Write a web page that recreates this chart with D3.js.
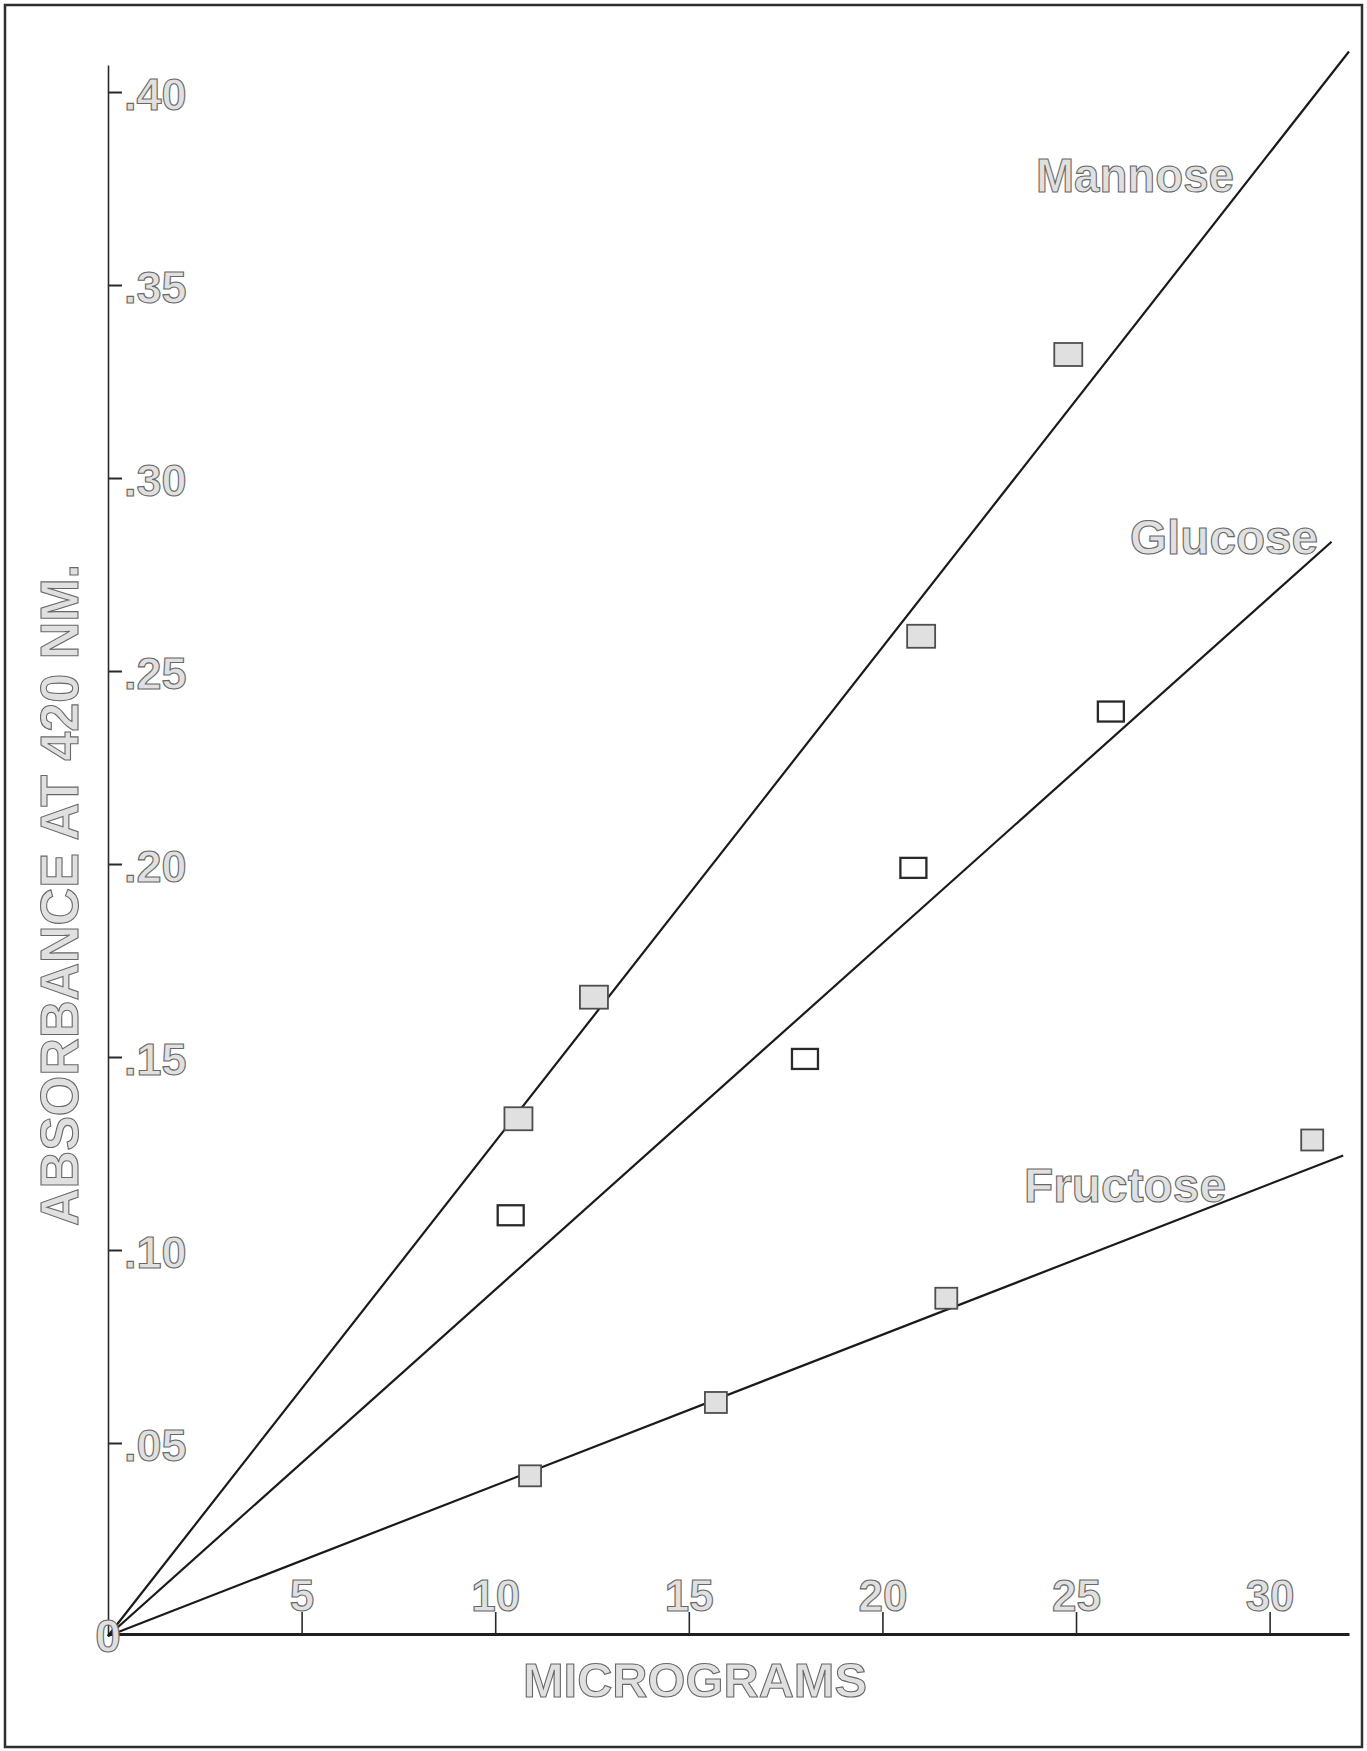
<!DOCTYPE html>
<html>
<head>
<meta charset="utf-8">
<script src="https://cdn.jsdelivr.net/npm/d3@7"></script>
<style>
  html, body { margin: 0; padding: 0; background: #ffffff; }
  svg { display: block; }
  .lt { font-family: "Liberation Sans", Arial, Helvetica, sans-serif; font-weight: bold; fill: #e0e0e0; stroke: #686868; stroke-width: 1.1px; }
</style>
</head>
<body>
<div class="container"></div>
<script>
// Data
const seriesNames = ["Mannose", "Glucose", "Fructose"];

const mannoseX = [10.6, 12.55, 21.0, 24.8];
const mannoseY = [0.134, 0.1655, 0.259, 0.332];
const glucoseX = [10.4, 18.0, 20.8, 25.9];
const glucoseY = [0.109, 0.1495, 0.199, 0.2395];
const fructoseX = [10.9, 15.7, 21.65, 31.1];
const fructoseY = [0.0415, 0.0605, 0.0875, 0.1285];

// fitted lines (start, end)
const mannoseLine = [[0, 0], [32.05, 0.4105]];
const glucoseLine = [[0, 0], [31.6, 0.2835]];
const fructoseLine = [[0, 0], [31.9, 0.1245]];

const xTicks = [5, 10, 15, 20, 25, 30];
const xTickLabels = ["5", "10", "15", "20", "25", "30"];
const yTicks = [0.05, 0.10, 0.15, 0.20, 0.25, 0.30, 0.35, 0.40];
const yTickLabels = [".05", ".10", ".15", ".20", ".25", ".30", ".35", ".40"];

const xMax = 32.05;
const yMax = 0.407;

// Dimensions
const w = 1367;
const h = 1751;
const originX = 108;
const originY = 1636;

const xScale = d3.scaleLinear().domain([0, xMax]).range([originX, 1349]);
const yScale = d3.scaleLinear().domain([0, yMax]).range([originY, 65]);

const svg = d3.select(".container")
  .append("svg")
  .attr("width", w)
  .attr("height", h);

// Frame
svg.append("rect")
  .attr("x", 5)
  .attr("y", 5)
  .attr("width", 1357)
  .attr("height", 1742)
  .attr("fill", "none")
  .attr("stroke", "#2e2e2e")
  .attr("stroke-width", 2.5);

// Y axis (ticks pointing into the plot, labels to the right)
const yAxis = d3.axisRight(yScale)
  .tickValues(yTicks)
  .tickFormat((d, i) => yTickLabels[i])
  .tickSizeInner(14)
  .tickSizeOuter(0)
  .tickPadding(2);

const gy = svg.append("g")
  .attr("id", "y-axis")
  .attr("transform", `translate(${originX},0)`)
  .call(yAxis);
gy.attr("font-size", null).attr("font-family", null);
gy.select(".domain").attr("stroke", "#2a2a2a").attr("stroke-width", 1.6);
gy.selectAll(".tick line").attr("stroke", "#2a2a2a").attr("stroke-width", 2);
gy.selectAll(".tick text")
  .attr("class", "lt")
  .attr("dy", "0.38em")
  .style("font-size", "45px");

// X axis (ticks pointing up, labels above)
const xAxis = d3.axisTop(xScale)
  .tickValues(xTicks)
  .tickFormat((d, i) => xTickLabels[i])
  .tickSizeInner(22)
  .tickSizeOuter(0)
  .tickPadding(1);

const gx = svg.append("g")
  .attr("id", "x-axis")
  .attr("transform", `translate(0,${yScale(0) - 2})`)
  .call(xAxis);
gx.attr("font-size", null).attr("font-family", null);
gx.select(".domain").attr("stroke", "#1e1e1e").attr("stroke-width", 3);
gx.selectAll(".tick line").attr("stroke", "#2a2a2a").attr("stroke-width", 1.6);
gx.selectAll(".tick text")
  .attr("class", "lt")
  .style("font-size", "44px");

// Axis titles
svg.append("text")
  .attr("class", "lt")
  .attr("x", 695)
  .attr("y", 1697)
  .attr("text-anchor", "middle")
  .attr("textLength", 344)
  .attr("lengthAdjust", "spacingAndGlyphs")
  .style("font-size", "49px")
  .text("MICROGRAMS");

svg.append("text")
  .attr("class", "lt")
  .attr("transform", "translate(78,895) rotate(-90)")
  .attr("text-anchor", "middle")
  .attr("textLength", 662)
  .attr("lengthAdjust", "spacingAndGlyphs")
  .style("font-size", "54px")
  .text("ABSORBANCE AT 420 NM.");

// Fitted lines
const line = d3.line()
  .x(d => xScale(d[0]))
  .y(d => yScale(d[1]));

svg.selectAll("path.fit")
  .data([mannoseLine, glucoseLine, fructoseLine])
  .enter()
  .append("path")
  .attr("class", "fit")
  .attr("d", line)
  .attr("fill", "none")
  .attr("stroke", "#1a1a1a")
  .attr("stroke-width", 2.2);

// Points
const marker = {
  Mannose: { w: 28, h: 23, fill: "#e0e0e0", stroke: "#4e4e4e", sw: 1.8 },
  Glucose: { w: 26, h: 20, fill: "#ffffff", stroke: "#2a2a2a", sw: 2.3 },
  Fructose: { w: 22, h: 21, fill: "#e0e0e0", stroke: "#4e4e4e", sw: 1.8 }
};
const points = [
  { name: "Mannose", xs: mannoseX, ys: mannoseY },
  { name: "Glucose", xs: glucoseX, ys: glucoseY },
  { name: "Fructose", xs: fructoseX, ys: fructoseY }
];

points.forEach(s => {
  const m = marker[s.name];
  svg.append("g")
    .attr("class", "pts")
    .selectAll("rect")
    .data(s.xs.map((x, i) => [x, s.ys[i]]))
    .enter()
    .append("rect")
    .attr("x", d => xScale(d[0]) - m.w / 2)
    .attr("y", d => yScale(d[1]) - m.h / 2)
    .attr("width", m.w)
    .attr("height", m.h)
    .attr("fill", m.fill)
    .attr("stroke", m.stroke)
    .attr("stroke-width", m.sw);
});

// Series labels
const labelPos = {
  Mannose: { x: 1234, y: 192, len: 198 },
  Glucose: { x: 1318, y: 554, len: 188 },
  Fructose: { x: 1226, y: 1202, len: 202 }
};
svg.selectAll("text.series")
  .data(seriesNames)
  .enter()
  .append("text")
  .attr("class", "lt")
  .attr("x", d => labelPos[d].x)
  .attr("y", d => labelPos[d].y)
  .attr("text-anchor", "end")
  .attr("textLength", d => labelPos[d].len)
  .attr("lengthAdjust", "spacingAndGlyphs")
  .style("font-size", "48px")
  .text(d => d);

// Origin label
svg.append("text")
  .attr("class", "lt")
  .attr("x", xScale(0))
  .attr("y", yScale(0) + 16)
  .attr("text-anchor", "middle")
  .style("font-size", "46px")
  .text("0");
</script>
</body>
</html>
